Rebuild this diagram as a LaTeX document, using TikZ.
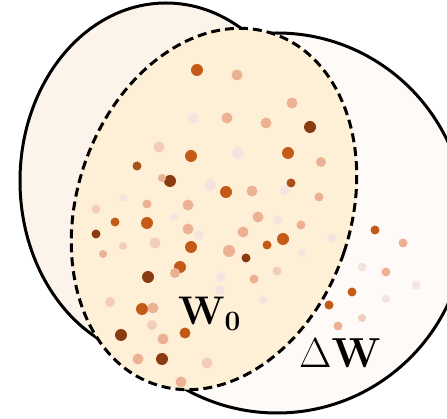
\documentclass[tikz,border=0pt]{standalone}
\usepackage{fix-cm}
\usepackage{xcolor}
\definecolor{FondoIzq}{RGB}{252,243,234}
\definecolor{FondoDer}{RGB}{254,250,247}
\definecolor{FondoBase}{RGB}{254,240,214}
\definecolor{DotDark}{RGB}{138,58,16}
\definecolor{DotBrown}{RGB}{168,80,24}
\definecolor{DotOrange}{RGB}{196,90,24}
\definecolor{DotSalmon}{RGB}{236,176,146}
\definecolor{DotPale}{RGB}{242,205,188}
\definecolor{DotFaint}{RGB}{243,228,224}
\usepackage{tikz}

\begin{document}
\begin{tikzpicture}[x=1pt, y=-1pt,
    borde/.style={line width=3pt, draw=black},
    rayado/.style={borde, dash pattern=on 9pt off 5pt}]
  \useasboundingbox (0,0) rectangle (447,419);
  \clip (0,0) rectangle (447,419);
  % Elipse izquierda
  \draw[borde, fill=FondoIzq] (166,181) ellipse [x radius=146, y radius=178];
  % Elipse derecha (Delta W)
  \draw[borde, fill=FondoDer] (277,223) ellipse [x radius=189, y radius=190];
  % Elipse punteada (W0)
  \draw[rayado, fill=FondoBase, shift={(214,209)}, rotate=-18.7] (0,0) ellipse [x radius=137, y radius=185];
  % Puntos
  \foreach \px/\py/\tono/\rad in {
      197/70/DotOrange/6, 237/75/DotSalmon/5.5, 292/103/DotSalmon/5.5,
      227/118/DotSalmon/5.5, 193/118/DotFaint/5.5, 266/123/DotSalmon/5.5,
      310/127/DotDark/6, 159/147/DotPale/5.5, 191/156/DotOrange/6,
      238/153/DotFaint/6, 288/153/DotOrange/6, 321/162/DotSalmon/5,
      137/166/DotBrown/4.5, 170/181/DotDark/6, 162/178/DotSalmon/4,
      210/185/DotFaint/6, 226/192/DotOrange/6, 252/191/DotSalmon/5.5,
      291/183/DotBrown/4.5, 285/190/DotFaint/5, 319/197/DotSalmon/4.5,
      123/198/DotFaint/4, 147/204/DotSalmon/4.5, 188/205/DotSalmon/5.5,
      96/209/DotPale/4.5, 115/222/DotOrange/4.5, 147/223/DotOrange/6,
      188/229/DotSalmon/5.5, 174/217/DotFaint/4, 258/217/DotSalmon/5.5,
      278/220/DotFaint/4.5, 301/225/DotSalmon/4.5, 96/234/DotDark/4.5,
      123/246/DotPale/4, 155/243/DotPale/5.5, 191/247/DotOrange/6,
      199/235/DotFaint/5, 243/232/DotSalmon/5.5, 229/251/DotSalmon/6,
      267/245/DotOrange/4.5, 283/239/DotOrange/6, 246/258/DotDark/4.5,
      103/254/DotSalmon/4, 332/238/DotFaint/4.5, 302/253/DotFaint/4,
      375/230/DotOrange/4.5, 403/243/DotSalmon/4.5, 180/267/DotOrange/6,
      175/273/DotSalmon/5, 148/277/DotDark/6, 254/279/DotSalmon/4.5,
      277/271/DotPale/4.5, 221/277/DotFaint/5, 220/290/DotFaint/5,
      362/267/DotFaint/4.5, 386/272/DotSalmon/4.5, 416/285/DotFaint/4.5,
      352/292/DotOrange/4.5, 386/299/DotFaint/4, 329/305/DotOrange/4.5,
      362/318/DotPale/4, 338/326/DotSalmon/4.5, 263/300/DotFaint/4,
      110/302/DotPale/5, 142/309/DotOrange/6, 153/308/DotSalmon/5.5,
      152/325/DotPale/5, 121/335/DotDark/6, 163/339/DotSalmon/5.5,
      185/333/DotOrange/5.5, 138/359/DotSalmon/5.5, 162/359/DotDark/6,
      207/363/DotPale/5.5, 181/382/DotSalmon/5.5}
    \fill[\tono] (\px,\py) circle (\rad);
  % Etiquetas
  \node[anchor=base west, inner sep=0pt] (w0) at (178,325) {\fontsize{40}{44}\selectfont$\mathbf{W}_{\mathbf{0}}$};
  \node[anchor=base west, inner sep=0pt] (dw) at (299,367) {\fontsize{42}{46}\selectfont$\Delta\mathbf{W}$};
\end{tikzpicture}
\end{document}
